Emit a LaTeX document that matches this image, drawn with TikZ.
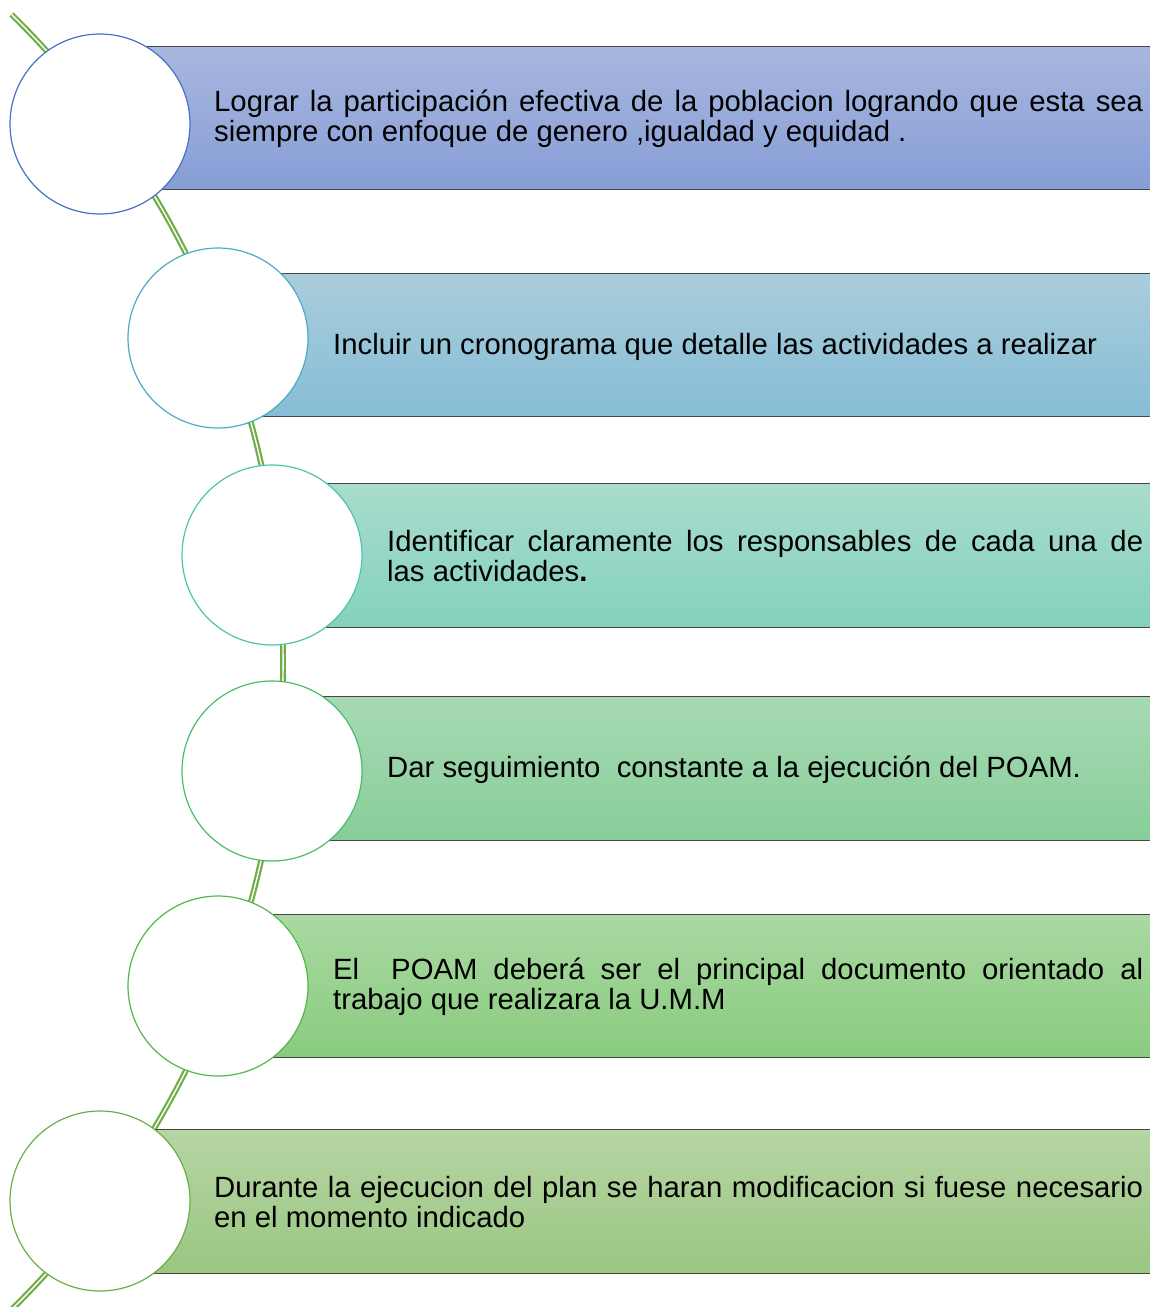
\documentclass[tikz,border=0pt]{standalone}
\usepackage{fontspec}
\setmainfont{Liberation Sans}
\usetikzlibrary{positioning}

\definecolor{linegreen}{HTML}{70AD47}
\definecolor{barline}{HTML}{474747}
\definecolor{ringA}{HTML}{4472C4}
\definecolor{ringB}{HTML}{4BACC6}
\definecolor{ringC}{HTML}{4CC4B0}
\definecolor{ringD}{HTML}{4CBB6C}
\definecolor{ringE}{HTML}{52B848}
\definecolor{ringF}{HTML}{6AAF48}
\definecolor{topA}{HTML}{A8B7DF}\definecolor{botA}{HTML}{869DD5}
\definecolor{topB}{HTML}{AACDDC}\definecolor{botB}{HTML}{86BDD6}
\definecolor{topC}{HTML}{A9DCCC}\definecolor{botC}{HTML}{84D1BE}
\definecolor{topD}{HTML}{A7D9B4}\definecolor{botD}{HTML}{88CE99}
\definecolor{topE}{HTML}{A9D9A1}\definecolor{botE}{HTML}{8ACB80}
\definecolor{topF}{HTML}{B6D5A3}\definecolor{botF}{HTML}{9AC682}

\tikzset{
  ring/.style={circle, draw, fill=white, minimum size=180pt, inner sep=0pt, line width=1.2pt},
  band/.style={rectangle, draw=barline, line width=1.1pt, minimum height=143.5pt, anchor=west, inner sep=0pt},
  itemtext/.style={anchor=west, align=justify, inner sep=0pt, text=black, font=\fontsize{29.3}{30}\selectfont},
}

\begin{document}
\begin{tikzpicture}[x=1pt,y=-1pt]
\useasboundingbox (0,0) rectangle (1149,1307);

% the double green line behind the circles
\coordinate (top) at (11.5,14.4);
\draw[linegreen, line width=2.2pt, double=white, double distance=1.4pt]
  (top) arc[start angle=-45.5, end angle=45.6, radius=908];

\node (b1) [band, top color=topA, bottom color=botA, minimum width=1052pt] at (100,118) {};
\node (b2) [band, top color=topB, bottom color=botB, minimum width=934pt] at (218,345) {};
\node (b3) [band, top color=topC, bottom color=botC, minimum width=880pt] at (272,555.5) {};
\node (b4) [band, top color=topD, bottom color=botD, minimum width=880pt] at (272,768.5) {};
\node (b5) [band, top color=topE, bottom color=botE, minimum width=934pt] at (218,986) {};
\node (b6) [band, top color=topF, bottom color=botF, minimum width=1052pt] at (100,1201.5) {};

\node (c1) [ring, draw=ringA] at (100,124) {};
\node (c2) [ring, draw=ringB] at (218,338) {};
\node (c3) [ring, draw=ringC] at (272,555) {};
\node (c4) [ring, draw=ringD] at (272,771) {};
\node (c5) [ring, draw=ringE] at (218,986) {};
\node (c6) [ring, draw=ringF] at (100,1201) {};

\node (t1) [itemtext, text width=929pt] at (214,119)
  {Lograr la participación efectiva de la poblacion logrando que esta sea\linebreak siempre con enfoque de genero ,igualdad y equidad .};
\node (t2) [itemtext] at (333,346.5)
  {Incluir un cronograma que detalle las actividades a realizar};
\node (t3) [itemtext, text width=756pt] at (387,556)
  {Identificar claramente los responsables de cada una de\linebreak las actividades{\bfseries .}};
\node (t4) [itemtext] at (387,770)
  {Dar seguimiento\ \ constante a la ejecución del POAM.};
\node (t5) [itemtext, text width=810pt] at (333,986.5)
  {El\ \ POAM deberá ser el principal documento orientado al\linebreak trabajo que realizara la U.M.M};
\node (t6) [itemtext, text width=929pt] at (214,1202)
  {Durante la ejecucion del plan se haran modificacion si fuese necesario\linebreak en el momento indicado};
\end{tikzpicture}
\end{document}
